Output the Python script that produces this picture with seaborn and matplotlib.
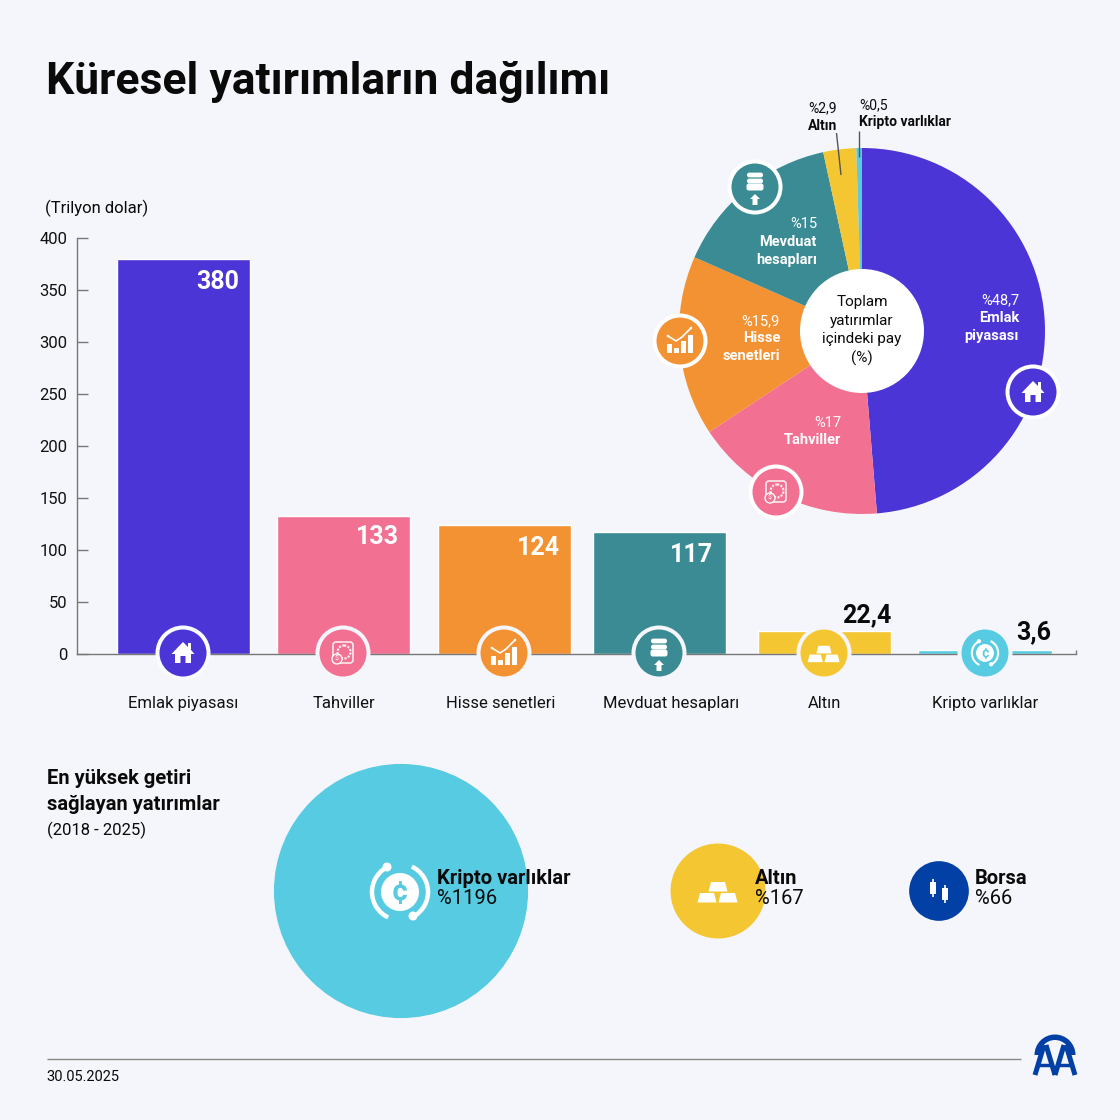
import numpy as np
import pandas as pd
import matplotlib
matplotlib.use("Agg")
import matplotlib.pyplot as plt
from matplotlib.patches import Circle, Polygon, Rectangle, Arc, FancyBboxPatch, Wedge
import seaborn as sns

# bar chart data
categories = ["Emlak piyasası", "Tahviller", "Hisse senetleri", "Mevduat hesapları", "Altın", "Kripto varlıklar"]
values = [380, 133, 124, 117, 22.4, 3.6]
value_labels = ["380", "133", "124", "117", "22,4", "3,6"]
y_ticks = [0, 50, 100, 150, 200, 250, 300, 350, 400]

# pie data
shares = [48.7, 17, 15.9, 15, 2.9, 0.5]

# bubble data
bubble_names = ["Kripto varlıklar", "Altın", "Borsa"]
bubble_returns = [1196, 167, 66]
bubble_labels = ["%1196", "%167", "%66"]

PURPLE = "#4B35D6"
PINK = "#F27091"
ORANGE = "#F39233"
TEAL = "#3A8B93"
GOLD = "#F3C632"
CYAN = "#57CBE2"
NAVY = "#0340A5"
BG = "#F5F6FB"
colors = [PURPLE, PINK, ORANGE, TEAL, GOLD, CYAN]
bubble_colors = [CYAN, GOLD, NAVY]

sns.set_style("white")
plt.rcParams["font.family"] = ["Roboto", "DejaVu Sans"]

W = 1120
fig = plt.figure(figsize=(W / 100, W / 100), dpi=100, facecolor=BG)


def box(left, top, right, bottom):
    # pixel box (from the top left) to figure fractions
    return [left / W, 1 - bottom / W, (right - left) / W, (bottom - top) / W]


# ---- bars
ax = fig.add_axes(box(77, 238, 1076, 654), facecolor="none")
df = pd.DataFrame({"cat": categories, "val": values})
sns.barplot(data=df, x="cat", y="val", hue="cat", palette=colors, width=0.83,
            legend=False, saturation=1, ax=ax)
step = 160.3
ax.set_xlim((77 - 183.5) / step, (1076 - 183.5) / step)
ax.set_ylim(0, 400)
ax.set_xlabel("")
ax.set_ylabel("")
ax.containers[3][0].set_x(ax.containers[3][0].get_x() - 0.03)
sns.despine(ax=ax)
for s in ["left", "bottom"]:
    ax.spines[s].set_color("#777777")
    ax.spines[s].set_linewidth(1)
ax.set_yticks(y_ticks)
ax.tick_params(axis="y", direction="in", length=8, width=1, color="#777777", left=True,
               pad=7, labelsize=12, labelcolor="#111111")
ax.set_xticks([0, 1, 1.98, 3.04, 4, 5], categories)
ax.tick_params(axis="x", length=0, pad=30, labelsize=12, labelcolor="#111111")

# value labels, offsets in px from the bar's top right corner
label_off = [(-11, -23), (-11, -21), (-11, -23), (-13, -23), (0, 15), (0, 18)]
for i, (lab, off) in enumerate(zip(value_labels, label_off)):
    bar = ax.containers[i][0]
    ax.annotate(lab, (bar.get_x() + bar.get_width(), bar.get_height()),
                xytext=(off[0] * 0.72, off[1] * 0.72), textcoords="offset points",
                ha="right", va="center", fontsize=18, fontweight="bold",
                color="white" if i < 4 else "#0a0a0a")

# ---- pie
ax_pie = fig.add_axes(box(679, 148, 1045, 514))
ax_pie.pie(shares, colors=colors, startangle=90, counterclock=False, radius=1,
           wedgeprops={"linewidth": 0})
ax_pie.set_xlim(-1, 1)
ax_pie.set_ylim(-1, 1)

# ---- overlay in pixels, y down
ov = fig.add_axes([0, 0, 1, 1], facecolor="none")
ov.set_xlim(0, W)
ov.set_ylim(W, 0)
ov.axis("off")


def txt(x, y, s, size=11, weight="normal", color="#0a0a0a", ha="left", va="center", z=20):
    ov.text(x, y, s, fontsize=size, fontweight=weight, color=color, ha=ha, va=va, zorder=z)


def line(xs, ys, color="#555555", lw=1.0, z=9):
    ov.plot(xs, ys, color=color, lw=lw, solid_capstyle="butt", zorder=z)


def add(p, z=10):
    p.set_zorder(z)
    ov.add_patch(p)


# icons
def house(x, y, k=1.0, c="white"):
    add(Polygon([(x - 11.5*k, y + 1*k), (x, y - 11*k), (x + 5*k, y - 6*k), (x + 5*k, y - 10*k), (x + 8*k, y - 10*k),
                 (x + 8*k, y - 3*k), (x + 11.5*k, y + 1*k), (x + 8*k, y + 1*k), (x + 8*k, y + 10*k), (x + 2.5*k, y + 10*k),
                 (x + 2.5*k, y + 3*k), (x - 2.5*k, y + 3*k), (x - 2.5*k, y + 10*k), (x - 8*k, y + 10*k), (x - 8*k, y + 1*k)],
                closed=True, fc=c, ec="none"), 12)


def safe(x, y, c="white", bg=PINK):
    add(FancyBboxPatch((x - 10, y - 11), 20, 21, boxstyle="round,pad=0,rounding_size=3", fc="none", ec=c, lw=1.2, alpha=0.85), 12)
    add(Circle((x + 1, y - 1), 6.5, fc="none", ec=c, lw=1.6, ls=(0, (1, 0.6)), alpha=0.85), 12)
    add(Circle((x - 6, y + 6), 5, fc=bg, ec=c, lw=1.0, alpha=0.95), 12)
    ov.text(x - 6, y + 6, "$", fontsize=5, color=c, ha="center", va="center", zorder=13, parse_math=False)


def chart(x, y, c="white"):
    for dx, h in zip([-11, -4, 3, 10], [9, 5, 12, 18]):
        add(Rectangle((x + dx - 2, y + 12 - h), 5, h, fc=c, ec="none"), 12)
    line([x - 12, x - 4, x + 2, x + 11], [y - 5, y, y - 4, y - 13], color=c, lw=1.2, z=12)
    add(Circle((x + 11, y - 13), 1.3, fc=c, ec="none"), 12)
    add(Circle((x - 12, y - 5), 1.3, fc=c, ec="none"), 12)


def deposit(x, y, c="white"):
    for dy, hw, hh in zip([-12, -6, 0], [8, 8, 8.5], [2.4, 2.4, 3.5]):
        add(FancyBboxPatch((x - hw, y + dy - hh), 2 * hw, 2 * hh, boxstyle="round,pad=0,rounding_size=2.3", fc=c, ec="none"), 12)
    add(Polygon([(x, y + 7), (x + 5, y + 12), (x + 2.5, y + 12), (x + 2.5, y + 18), (x - 2.5, y + 18), (x - 2.5, y + 12), (x - 5, y + 12)],
                closed=True, fc=c, ec="none"), 12)


def gold_bars(x, y, k=1.0, c="white"):
    for dx, dy in [(0, -9), (-11, 2), (10, 2)]:
        add(Polygon([(x + (dx - 7) * k, y + (dy + 0) * k), (x + (dx + 7) * k, y + (dy + 0) * k), (x + (dx + 9.5) * k, y + (dy + 9.5) * k),
                     (x + (dx - 9.5) * k, y + (dy + 9.5) * k)], closed=True, fc=c, ec="none"), 12)


def coin(x, y, k=1.0, c="white", bg=CYAN):
    # k=1 for the large one in the bubble
    add(Circle((x, y), 19 * k, fc=c, ec="none"), 12)
    ov.text(x, y, "¢", fontsize=21 * k, fontweight="bold", color=bg, ha="center", va="center", zorder=13)
    r = 56 * k
    add(Arc((x, y), r, r, theta1=-65, theta2=62, color=c, lw=3.2 * k), 12)
    add(Arc((x, y), r, r, theta1=115, theta2=240, color=c, lw=3.2 * k), 12)
    add(Circle((x - 13 * k, y - 25 * k), 4.5 * k, fc=c, ec="none"), 12)
    add(Circle((x + 13 * k, y + 24 * k), 4.5 * k, fc=c, ec="none"), 12)


def candles(x, y, c="white"):
    for dx, dy in [(-6, -3), (6, 3)]:
        add(Rectangle((x + dx - 3, y + dy - 6), 6, 12, fc=c, ec="none"), 12)
        line([x + dx, x + dx], [y + dy - 9, y + dy + 9], color=c, lw=1.2, z=12)


def badge(x, y, color, ring="white"):
    add(Circle((x, y), 27.5, fc=ring, ec="none"), 10)
    add(Circle((x, y), 23.5, fc=color, ec="none"), 11)


# bar icons
bar_icon_x = [183, 343, 504, 659, 824, 985]
bar_icon_y = 653
for xx, col in zip(bar_icon_x, colors):
    badge(xx, bar_icon_y, col, ring=BG if col != PURPLE else "#FAFBFE")
house(bar_icon_x[0], bar_icon_y, 1.0)
safe(bar_icon_x[1], bar_icon_y)
chart(bar_icon_x[2], bar_icon_y)
deposit(bar_icon_x[3], bar_icon_y)
gold_bars(bar_icon_x[4], bar_icon_y, 0.8)
coin(bar_icon_x[5], bar_icon_y, 0.47)

# pie icons
badge(1033, 392, PURPLE)
house(1033, 392)
badge(776, 492, PINK)
safe(776, 492)
badge(680, 341, ORANGE)
chart(680, 341)
badge(755, 187, TEAL)
deposit(755, 187)

# pie hole and texts
add(Circle((862, 331), 62, fc="white", ec="none"), 8)
for yy, s in zip([302, 321, 339, 358], ["Toplam", "yatırımlar", "içindeki pay", "(%)"]):
    txt(862, yy, s, size=11, ha="center")

for xx, rows in [(1019, [(300, "%48,7", "normal"), (318, "Emlak", "bold"), (336, "piyasası", "bold")]),
                 (817, [(224, "%15", "normal"), (242, "Mevduat", "bold"), (260, "hesapları", "bold")]),
                 (780, [(321, "%15,9", "normal"), (338, "Hisse", "bold"), (356, "senetleri", "bold")]),
                 (841, [(423, "%17", "normal"), (440, "Tahviller", "bold")])]:
    for yy, s, w in rows:
        txt(xx, yy, s, size=10.5, weight=w, color="white", ha="right")

txt(837, 108, "%2,9", size=10, ha="right")
txt(837, 126, "Altın", size=10, weight="bold", ha="right")
txt(859, 105, "%0,5", size=10)
txt(859, 122, "Kripto varlıklar", size=10, weight="bold")
line([836.5, 841], [133, 175])
line([859, 859], [131, 157])

# headings
txt(46, 82, "Küresel yatırımların dağılımı", size=32, weight="bold")
txt(45, 208, "(Trilyon dolar)", size=12)
line([1076, 1076], [650, 654], color="#777777")

txt(47, 778, "En yüksek getiri", size=14.5, weight="bold")
txt(47, 804, "sağlayan yatırımlar", size=14.5, weight="bold")
txt(47, 830, "(2018 - 2025)", size=12)

# bubbles, area follows the return
bubble_x = [401, 718, 939]
bub = pd.DataFrame({"name": bubble_names, "ret": bubble_returns, "x": bubble_x, "y": [891] * 3})
bub_sizes = {v: (2 * np.sqrt(v * 13.5) * 0.72) ** 2 for v in bubble_returns}
sns.scatterplot(data=bub, x="x", y="y", hue="name", palette=bubble_colors, size="ret", sizes=bub_sizes,
                linewidth=0, legend=False, alpha=1, zorder=5, ax=ov)
ov.set_xlabel("")
ov.set_ylabel("")
ov.set_xlim(0, W)
ov.set_ylim(W, 0)

coin(400, 892, 1.0)
gold_bars(718, 891, 1.0)
candles(939, 891)
for xx, name, lab in zip([437, 755, 975], bubble_names, bubble_labels):
    txt(xx, 879, name, size=14.5, weight="bold")
    txt(xx, 899, lab, size=14.5)

# footer
line([47, 1021], [1059, 1059], color="#888888", lw=1.0)
txt(46, 1077, "30.05.2025", size=10.5)

# AA logo
add(Wedge((1055, 1055), 20.5, 180, 360, width=5.5, fc=NAVY, ec="none"), 12)
line([1034.5, 1034.5, 1040], [1055, 1058, 1058], color=NAVY, lw=0, z=12)
for cx in [1045, 1065]:
    line([cx - 10, cx - 1], [1075, 1045], color=NAVY, lw=3.6, z=13)
    line([cx + 10, cx + 1], [1075, 1045], color=NAVY, lw=3.6, z=13)
    line([cx - 6, cx + 6], [1065, 1065], color=NAVY, lw=2.5, z=13)

fig.savefig("out.png", dpi=100, facecolor=BG)
